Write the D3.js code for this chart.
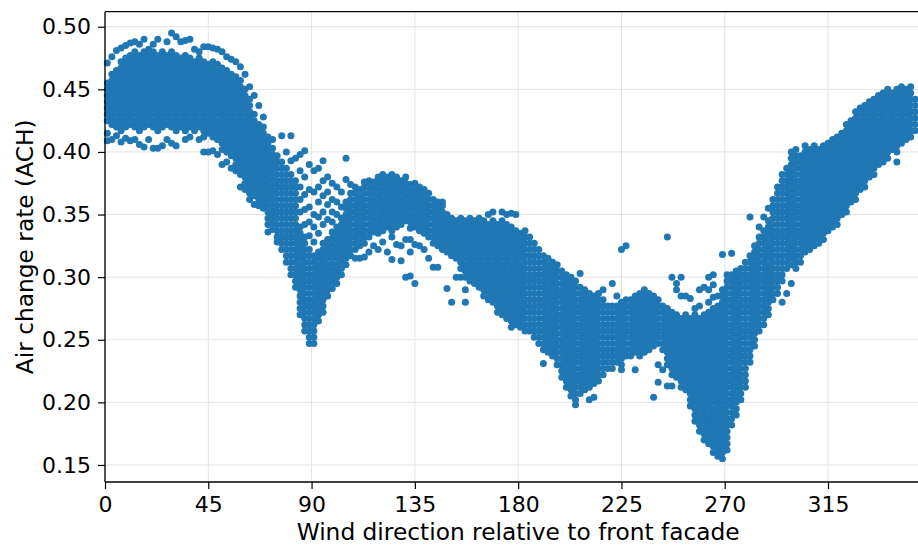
<!DOCTYPE html>
<html>
<head>
<meta charset="utf-8">
<script src="https://cdn.jsdelivr.net/npm/d3@7"></script>
<style>
  body { margin: 0; background: #fff; }
  svg { display: block; font-family: "DejaVu Sans", sans-serif; }
</style>
</head>
<body>
<svg id="chart" width="918" height="545"></svg>
<script>
// wind direction columns (degrees), one column every 2 degrees
const angles = [1,3,5,7,9,11,13,15,17,19,21,23,25,27,29,31,33,35,37,39,41,43,45,47,49,
  51,53,55,57,59,61,63,65,67,69,71,73,75,77,79,81,83,85,87,89,91,93,95,97,99,
  101,103,105,107,109,111,113,115,117,119,121,123,125,127,129,131,133,135,137,139,141,143,145,147,149,
  151,153,155,157,159,161,163,165,167,169,171,173,175,177,179,181,183,185,187,189,191,193,195,197,199,
  201,203,205,207,209,211,213,215,217,219,221,223,225,227,229,231,233,235,237,239,241,243,245,247,249,
  251,253,255,257,259,261,263,265,267,269,271,273,275,277,279,281,283,285,287,289,291,293,295,297,299,
  301,303,305,307,309,311,313,315,317,319,321,323,325,327,329,331,333,335,337,339,341,343,345,347,349,
  351,353]

// air change rate readings per column, in thousandths of ACH
const achValues = [
  [471,455,450,445,440,435,430,425,415,409], // 1
  [476,462,457,452,447,442,437,432,427,422,410], // 3
  [481,465,460,455,450,445,440,435,430,425,420,413], // 5
  [483,472,467,462,457,452,447,442,437,432,427,422,417,408], // 7
  [485,475,470,465,460,455,450,445,440,435,430,425,420,411], // 9
  [487,477,472,467,462,457,452,447,442,437,432,427,422,409], // 11
  [488,480,475,470,465,460,455,450,445,440,435,430,425,420,410], // 13
  [486,477,472,467,462,457,452,447,442,437,432,427,422,417,406], // 15
  [490,480,475,470,465,460,455,450,445,440,435,430,425,420,404], // 17
  [482,477,472,467,462,457,452,447,442,437,432,427,422,410], // 19
  [486,480,475,470,465,460,455,450,445,440,435,430,425,420,403], // 21
  [490,477,472,467,462,457,452,447,442,437,432,427,422,417,403], // 23
  [480,475,470,465,460,455,450,445,440,435,430,425,420,405], // 25
  [488,477,472,467,462,457,452,447,442,437,432,427,422,410], // 27
  [495,480,475,470,465,460,455,450,445,440,435,430,425,420,407], // 29
  [492,477,472,467,462,457,452,447,442,437,432,427,422,417,405], // 31
  [488,475,470,465,460,455,450,445,440,435,430,425,420], // 33
  [489,477,472,467,462,457,452,447,442,437,432,427,422,417,410], // 35
  [490,475,470,465,460,455,450,445,440,435,430,425,420,412], // 37
  [482,472,467,462,457,452,447,442,437,432,427,422,417], // 39
  [480,475,470,465,460,455,450,445,440,435,430,425,420,410], // 41
  [484,472,467,462,457,452,447,442,437,432,427,422,417,412,400], // 43
  [484,470,465,460,455,450,445,440,435,430,425,420,415,400], // 45
  [483,472,467,462,457,452,447,442,437,432,427,422,417,412,401], // 47
  [482,470,465,460,455,450,445,440,435,430,425,420,415,410,398], // 49
  [480,467,462,457,452,447,442,437,432,427,422,417,412,407,402,390], // 51
  [476,465,460,455,450,445,440,435,430,425,420,415,410,405,400,392], // 53
  [474,462,457,452,447,442,437,432,427,422,417,412,407,402,397,387], // 55
  [472,460,455,450,445,440,435,430,425,420,415,410,405,400,395,390,385], // 57
  [468,457,452,447,442,437,432,427,422,417,412,407,402,397,392,387,382,372], // 59
  [462,450,445,440,435,430,425,420,415,410,405,400,395,390,385,380,375,370], // 61
  [452,442,437,432,427,422,417,412,407,402,397,392,387,382,377,372,367,362], // 63
  [445,430,425,420,415,410,405,400,395,390,385,380,375,370,365,358], // 65
  [437,422,417,412,407,402,397,392,387,382,377,372,367,362,357], // 67
  [428,420,415,410,405,400,395,390,385,380,375,370,365,360,355], // 69
  [412,407,402,397,392,387,382,377,372,367,362,357,352,347,342,336], // 71
  [410,403,398,393,388,383,378,373,368,363,358,353,348,343,338], // 73
  [397,392,387,382,377,372,367,362,357,352,347,342,337,332,328], // 75
  [413,392,387,382,377,372,367,362,357,352,347,342,337,332,327,322], // 77
  [400,387,382,377,372,367,362,357,352,347,342,337,332,327,322,317,312], // 79
  [413,393,382,377,372,367,362,357,352,347,342,337,332,327,322,317,312,307,302], // 81
  [395,377,372,367,362,357,352,347,342,337,332,327,322,317,312,307,302,297,292], // 83
  [398,385,372,362,352,340,335,330,325,320,315,310,305,300,295,290,285,280,275,270], // 85
  [401,380,366,354,342,332,327,322,317,312,307,302,297,292,287,282,277,272,267,262,257], // 87
  [390,370,356,344,333,322,317,312,307,302,297,292,287,282,277,272,267,262,257,252,247], // 89
  [385,368,350,340,328,317,312,307,302,297,292,287,282,277,272,267,262,257,252,247], // 91
  [387,372,360,348,335,320,315,310,305,300,295,290,285,280,275,270,265], // 93
  [393,377,365,352,342,327,322,317,312,307,302,297,292,287,282,277,272], // 95
  [380,368,358,346,330,325,320,315,310,305,300,295,290,285], // 97
  [375,362,352,344,336,331,326,321,316,311,306,301,296,291], // 99
  [372,360,350,340,335,330,325,320,315,310,305,300,295], // 101
  [368,356,347,342,337,332,327,322,317,312,307,302], // 103
  [395,378,360,355,350,345,340,335,330,325,320,315,310], // 105
  [374,367,362,357,352,347,342,337,332,327,322,317], // 107
  [372,367,362,357,352,347,342,337,332,327,322,315], // 109
  [370,365,360,355,350,345,340,335,330,325,315], // 111
  [376,372,367,362,357,352,347,342,337,332,327,316], // 113
  [377,372,367,362,357,352,347,342,337,332,320], // 115
  [376,371,366,361,356,351,346,341,336,325], // 117
  [380,375,370,365,360,355,350,345,340,335,322], // 119
  [382,377,372,367,362,357,352,347,342,337,328], // 121
  [380,375,370,365,360,355,350,345,340,320], // 123
  [382,377,372,367,362,357,352,347,342,337,332,314], // 125
  [380,375,370,365,360,355,350,345,340,326], // 127
  [377,372,367,362,357,352,347,342,325,313], // 129
  [380,375,370,365,360,355,350,345,330,300], // 131
  [374,369,364,359,354,349,344,339,330,320,301], // 133
  [375,370,365,360,355,350,345,340,326,295], // 135
  [372,367,362,357,352,347,342,337,325], // 137
  [370,365,360,355,350,345,340,335,322], // 139
  [367,362,357,352,347,342,337,332,315], // 141
  [362,357,352,347,342,337,332,327,308], // 143
  [360,355,350,345,340,335,330,325,308], // 145
  [360,357,352,347,342,337,332,327,322], // 147
  [350,345,340,335,330,325,320,291], // 149
  [347,342,337,332,327,322,317,280], // 151
  [345,340,335,330,325,320,315,300], // 153
  [347,342,337,332,327,322,317,312,307,300], // 155
  [345,340,335,330,325,320,315,310,305,300,290,280], // 157
  [347,342,337,332,327,322,317,312,307,302,297], // 159
  [345,340,335,330,325,320,315,310,305,300,295], // 161
  [347,342,337,332,327,322,317,312,307,302,297,292], // 163
  [345,340,335,330,325,320,315,310,305,300,295,290,285], // 165
  [350,342,337,332,327,322,317,312,307,302,297,292,287,282], // 167
  [352,345,340,335,330,325,320,315,310,305,300,295,290,285,280], // 169
  [342,337,332,327,322,317,312,307,302,297,292,287,282,277,272], // 171
  [352,345,340,335,330,325,320,315,310,305,300,295,290,285,280,275,270], // 173
  [350,342,337,332,327,322,317,312,307,302,297,292,287,282,277,272,267], // 175
  [351,340,335,330,325,320,315,310,305,300,295,290,285,280,275,270,265,260], // 177
  [350,337,332,327,322,317,312,307,302,297,292,287,282,277,272,267,262], // 179
  [335,330,325,320,315,310,305,300,295,290,285,280,275,270,265,260], // 181
  [337,332,327,322,317,312,307,302,297,292,287,282,277,272,267,262,257], // 183
  [332,327,322,317,312,307,302,297,292,287,282,277,272,267,262,257], // 185
  [327,322,317,312,307,302,297,292,287,282,277,272,267,262,257,252], // 187
  [322,317,312,307,302,297,292,287,282,277,272,267,262,257,252,247], // 189
  [317,312,307,302,297,292,287,282,277,272,267,262,257,252,247,242,231], // 191
  [315,310,305,300,295,290,285,280,275,270,265,260,255,250,245,240], // 193
  [312,307,302,297,292,287,282,277,272,267,262,257,252,247,242,237], // 195
  [310,305,300,295,290,285,280,275,270,265,260,255,250,245,240,235,230], // 197
  [305,300,295,290,285,280,275,270,265,260,255,250,245,240,235,230,225,220], // 199
  [302,297,292,287,282,277,272,267,262,257,252,247,242,237,232,227,222,217,212], // 201
  [300,295,290,285,280,275,270,265,260,255,250,245,240,235,230,225,220,215,210,205], // 203
  [297,292,287,282,277,272,267,262,257,252,247,242,237,232,227,222,217,212,207,202,198], // 205
  [303,292,287,282,277,272,267,262,257,252,247,242,237,232,227,222,217,212,207], // 207
  [290,285,280,275,270,265,260,255,250,245,240,235,230,225,220,215,210], // 209
  [287,282,277,272,267,262,257,252,247,242,237,232,227,222,217,212,202], // 211
  [285,280,275,270,265,260,255,250,245,240,235,230,225,220,215,204], // 213
  [287,282,277,272,267,262,257,252,247,242,237,232,227,222,217], // 215
  [290,282,277,272,267,262,257,252,247,242,237,232,227,222], // 217
  [277,272,267,262,257,252,247,242,237,232,227], // 219
  [295,277,272,267,262,257,252,247,242,237,232,227], // 221
  [285,277,272,267,262,257,252,247,242,237,232], // 223
  [322,280,275,270,265,260,255,250,245,240,235,230,226], // 225
  [325,282,277,272,267,262,257,252,247,242,237], // 227
  [282,277,272,267,262,257,252,247,242,237], // 229
  [285,280,275,270,265,260,255,250,245,240,226], // 231
  [287,282,277,272,267,262,257,252,247,242,237], // 233
  [290,285,280,275,270,265,260,255,250,245,240], // 235
  [287,282,277,272,267,262,257,252,247,242], // 237
  [285,280,275,270,265,260,255,250,245,204], // 239
  [282,277,272,267,262,257,252,247,230,216], // 241
  [277,272,267,262,257,252,247,242,226], // 243
  [332,275,270,265,260,255,250,245,240,235,230,213], // 245
  [300,272,267,262,257,252,247,242,237,232,227,222,213], // 247
  [295,290,270,265,260,255,250,245,240,235,230,225,220], // 249
  [300,285,267,262,257,252,247,242,237,232,227,222,217,212], // 251
  [285,270,265,260,255,250,245,240,235,230,225,220,215,210], // 253
  [283,267,262,257,252,247,242,237,232,227,222,217,212,207,202,197], // 255
  [275,270,265,260,255,250,245,240,235,230,225,220,215,210,205,200,195,190,185], // 257
  [290,277,267,262,257,252,247,242,237,232,227,222,217,212,207,202,197,192,187,182,177], // 259
  [292,270,265,260,255,250,245,240,235,230,225,220,215,210,205,200,195,190,185,180,175,170], // 261
  [300,290,280,272,267,262,257,252,247,242,237,232,227,222,217,212,207,202,197,192,187,182,177,172,167], // 263
  [302,294,284,275,270,265,260,255,250,245,240,235,230,225,220,215,210,205,200,195,190,185,180,175,170,165,160], // 265
  [285,277,272,267,262,257,252,247,242,237,232,227,222,217,212,207,202,197,192,187,182,177,172,167,162,157], // 267
  [318,290,285,280,275,270,265,260,255,250,245,240,235,230,225,220,215,210,205,200,195,190,185,180,175,170,165,160,155], // 269
  [302,297,292,287,282,277,272,267,262,257,252,247,242,237,232,227,222,217,212,207,202,197,192,187,182,177,172,167,162], // 271
  [319,302,297,292,287,282,277,272,267,262,257,252,247,242,237,232,227,222,217,212,207,202,197,192,187,182], // 273
  [305,300,295,290,285,280,275,270,265,260,255,250,245,240,235,230,225,220,215,210,205,200,195,190], // 275
  [307,302,297,292,287,282,277,272,267,262,257,252,247,242,237,232,227,222,217,212,207,202], // 277
  [312,307,302,297,292,287,282,277,272,267,262,257,252,247,242,237,232,227,222,217,212], // 279
  [348,317,312,307,302,297,292,287,282,277,272,267,262,257,252,247,242,237,232], // 281
  [325,320,315,310,305,300,295,290,285,280,275,270,265,260,255,250,245], // 283
  [340,332,327,322,317,312,307,302,297,292,287,282,277,272,267,262,257], // 285
  [348,337,332,327,322,317,312,307,302,297,292,287,282,277,272,267,262], // 287
  [355,345,340,335,330,325,320,315,310,305,300,295,290,285,280,275,270], // 289
  [362,357,352,347,342,337,332,327,322,317,312,307,302,297,292,287,282], // 291
  [372,367,362,357,352,347,342,337,332,327,322,317,312,307,302,297,292,287], // 293
  [382,377,372,367,362,357,352,347,342,337,332,327,322,317,312,307,302,297,280], // 295
  [387,382,377,372,367,362,357,352,347,342,337,332,327,322,317,312,307,287], // 297
  [400,395,390,385,380,375,370,365,360,355,350,345,340,335,330,325,320,315,310,295], // 299
  [402,397,392,387,382,377,372,367,362,357,352,347,342,337,332,327,322,317,312,307], // 301
  [397,392,387,382,377,372,367,362,357,352,347,342,337,332,327,322,317,312], // 303
  [405,400,395,390,385,380,375,370,365,360,355,350,345,340,335,330,325,320], // 305
  [402,397,392,387,382,377,372,367,362,357,352,347,342,337,332,327,322], // 307
  [405,400,395,390,385,380,375,370,365,360,355,350,345,340,335,330,325], // 309
  [402,397,392,387,382,377,372,367,362,357,352,347,342,337,332,327], // 311
  [405,400,395,390,385,380,375,370,365,360,355,350,345,340,335,330], // 313
  [407,402,397,392,387,382,377,372,367,362,357,352,347,342,337], // 315
  [410,405,400,395,390,385,380,375,370,365,360,355,350,345,340], // 317
  [412,407,402,397,392,387,382,377,372,367,362,357,352,347,342], // 319
  [415,410,405,400,395,390,385,380,375,370,365,360,355,350], // 321
  [422,417,412,407,402,397,392,387,382,377,372,367,362,357,352], // 323
  [425,420,415,410,405,400,395,390,385,380,375,370,365,360], // 325
  [432,427,422,417,412,407,402,397,392,387,382,377,372,367,362], // 327
  [435,430,425,420,415,410,405,400,395,390,385,380,375,370], // 329
  [437,432,427,422,417,412,407,402,397,392,387,382,377,372], // 331
  [440,435,430,425,420,415,410,405,400,395,390,385,380], // 333
  [442,437,432,427,422,417,412,407,402,397,392,387,382], // 335
  [445,440,435,430,425,420,415,410,405,400,395,390], // 337
  [447,442,437,432,427,422,417,412,407,402,397,392], // 339
  [450,445,440,435,430,425,420,415,410,405,400,395], // 341
  [447,442,437,432,427,422,417,412,407,402], // 343
  [450,445,440,435,430,425,420,415,410,405,400,392], // 345
  [452,447,442,437,432,427,422,417,412,407], // 347
  [450,445,440,435,430,425,420,415,410], // 349
  [452,447,442,437,432,427,422,417,412], // 351
  [442,437,432,427,422,417] // 353
]

const xTicks = [0, 45, 90, 135, 180, 225, 270, 315]
const yTicks = [0.15, 0.20, 0.25, 0.30, 0.35, 0.40, 0.45, 0.50]

// flatten columns into points
const points = []
angles.forEach((a, i) => {
    (achValues[i] || []).forEach(v => points.push({ angle: a, ach: v / 1000 }))
})

const svg = d3.select('#chart')
const margin = { top: 11.7, left: 105, bottom: 482 }
const plotRight = 931.3   // 360 deg sits just past the picture's right edge

const xScale = d3.scaleLinear()
    .domain([0, 360])
    .range([margin.left, plotRight])

const yScale = d3.scaleLinear()
    .domain([0.1364, 0.512])
    .range([margin.bottom, margin.top])

// grid
const grid = svg.append('g').attr('stroke', '#e3e3e3').attr('stroke-width', 1)
grid.selectAll('.vg').data(xTicks).join('line')
    .attr('x1', d => xScale(d)).attr('x2', d => xScale(d))
    .attr('y1', margin.top).attr('y2', margin.bottom)
grid.selectAll('.hg').data(yTicks).join('line')
    .attr('x1', margin.left).attr('x2', plotRight)
    .attr('y1', d => yScale(d)).attr('y2', d => yScale(d))

// points
svg.append('g')
    .attr('fill', '#1f77b4')
    .selectAll('circle')
    .data(points)
    .join('circle')
      .attr('cx', d => xScale(d.angle))
      .attr('cy', d => yScale(d.ach))
      .attr('r', 3.5)

// axes
const xAxis = svg.append('g')
    .attr('transform', `translate(0, ${margin.bottom})`)
    .call(d3.axisBottom(xScale).tickValues(xTicks).tickFormat(d3.format('d')).tickSize(7).tickPadding(7))
const yAxis = svg.append('g')
    .attr('transform', `translate(${margin.left}, 0)`)
    .call(d3.axisLeft(yScale).tickValues(yTicks).tickFormat(d3.format('.2f')).tickSize(7).tickPadding(7))

;[xAxis, yAxis].forEach(ax => {
    ax.select('.domain').remove()
    ax.selectAll('line').attr('stroke', '#000').attr('stroke-width', 1.2)
    ax.selectAll('text')
        .attr('fill', '#000')
        .style('font-family', '"DejaVu Sans", sans-serif')
        .style('font-size', '22px')
})

// spines
const spines = svg.append('g').attr('stroke', '#000').attr('stroke-width', 1.3)
spines.append('line').attr('x1', margin.left).attr('x2', margin.left).attr('y1', margin.top).attr('y2', margin.bottom)
spines.append('line').attr('x1', margin.left).attr('x2', plotRight).attr('y1', margin.bottom).attr('y2', margin.bottom)
spines.append('line').attr('x1', margin.left).attr('x2', plotRight).attr('y1', margin.top).attr('y2', margin.top)

// axis titles
svg.append('text')
    .attr('x', (margin.left + plotRight) / 2)
    .attr('y', 540)
    .attr('text-anchor', 'middle')
    .style('font-size', '23.3px')
    .text('Wind direction relative to front facade')

svg.append('text')
    .attr('transform', `translate(32.5, ${(margin.top + margin.bottom) / 2}) rotate(-90)`)
    .attr('text-anchor', 'middle')
    .style('font-size', '23.3px')
    .text('Air change rate (ACH)')
</script>
</body>
</html>
